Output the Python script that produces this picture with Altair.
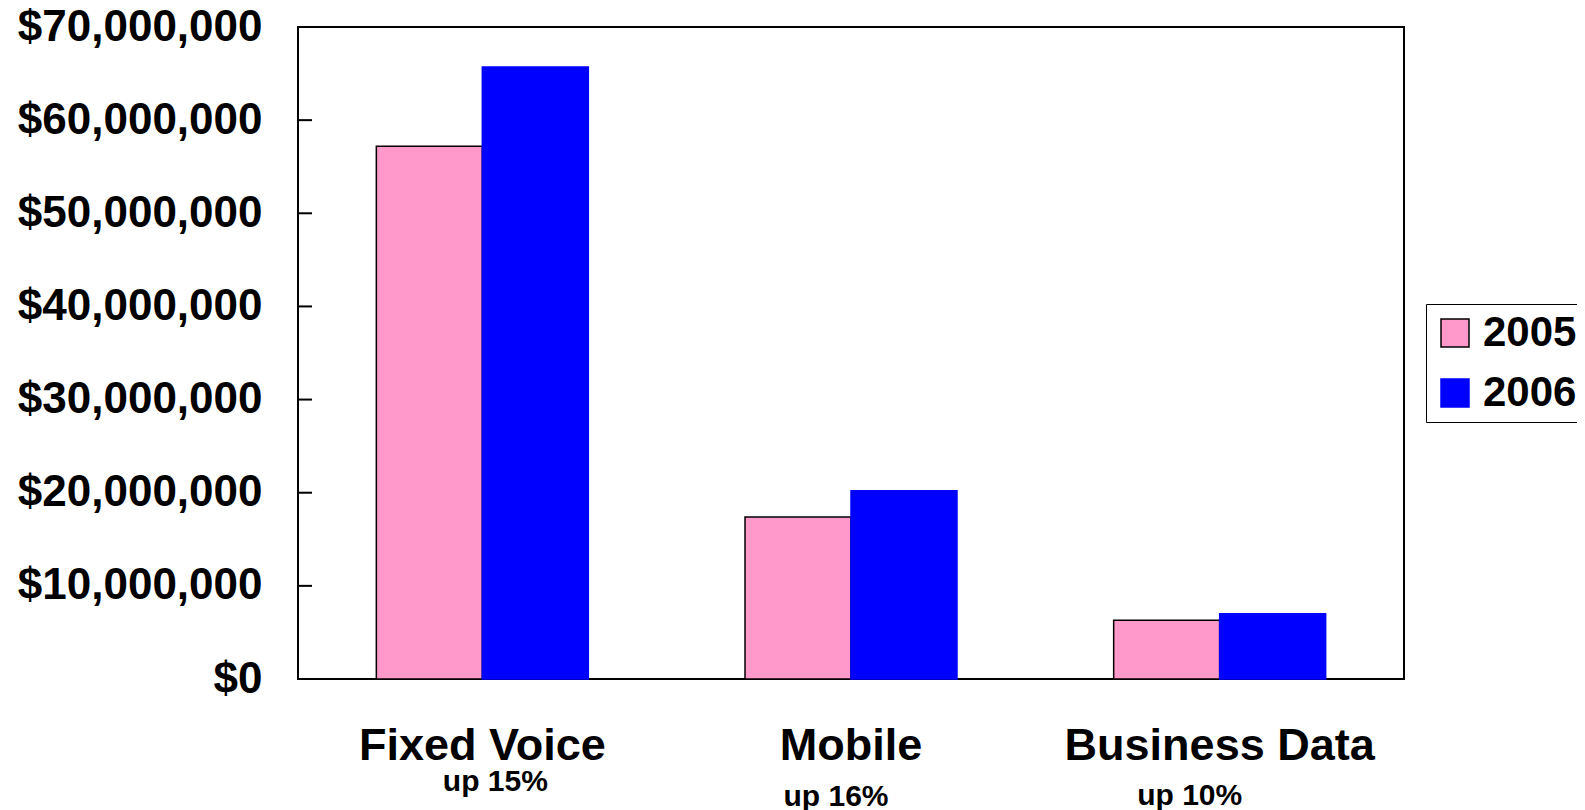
import altair as alt
import pandas as pd

categories = ["Fixed Voice", "Mobile", "Business Data"]
years = ["2005", "2006"]
values_2005 = [57_200_000, 17_400_000, 6_300_000]
values_2006 = [65_700_000, 20_200_000, 7_000_000]
growth = ["up 15%", "up 16%", "up 10%"]
y_ticks = [0, 10_000_000, 20_000_000, 30_000_000, 40_000_000, 50_000_000, 60_000_000, 70_000_000]

rows = []
for c, v5, v6 in zip(categories, values_2005, values_2006):
    rows.append({"category": c, "year": "2005", "value": v5})
    rows.append({"category": c, "year": "2006", "value": v6})
df = pd.DataFrame(rows)
df_growth = pd.DataFrame({"category": categories, "growth": growth})
df_ticks = pd.DataFrame({"tick": y_ticks})

FONT = "Liberation Sans"
W, H = 1106, 652

x_enc = alt.X(
    "category:N", sort=categories,
    scale=alt.Scale(domain=categories, paddingInner=0.425, paddingOuter=0.2125),
    axis=alt.Axis(title=None, labelAngle=0, labelFontSize=45, labelFont=FONT,
                  labelFontWeight="bold", labelColor="black", ticks=False,
                  domain=False, labelPadding=44, labelLimit=0),
)

legend = alt.Legend(
    title=None, orient="none", legendX=1128, legendY=277,
    strokeColor="black", fillColor="white", padding=8,
    symbolType="square", symbolSize=784, symbolStrokeWidth=1.5,
    labelFontSize=42, labelFont=FONT, labelFontWeight="bold", labelColor="black",
    rowPadding=18, labelOffset=7, labelLimit=0,
)

bars = alt.Chart(df).mark_bar(strokeWidth=1.5).encode(
    x=x_enc,
    xOffset=alt.XOffset("year:N", sort=years,
                        scale=alt.Scale(domain=years, paddingInner=0, paddingOuter=0)),
    y=alt.Y("value:Q",
            scale=alt.Scale(domain=[0, 70_000_000], nice=False),
            axis=alt.Axis(title=None, values=y_ticks, format="$,.0f", grid=False,
                          ticks=False, domain=False, labelFontSize=44, labelFont=FONT,
                          labelFontWeight="bold", labelColor="black", labelPadding=36,
                          labelLimit=0)),
    fill=alt.Fill("year:N", scale=alt.Scale(domain=years, range=["#FF99CC", "#0000FF"]),
                  legend=legend),
    stroke=alt.Stroke("year:N", scale=alt.Scale(domain=years, range=["black", "#0000FF"]),
                      legend=legend),
)

ticks = alt.Chart(df_ticks).mark_rule(color="black", strokeWidth=2).encode(
    x=alt.value(0), x2=alt.value(14),
    y=alt.Y("tick:Q"),
)

sub_layers = []
offsets = {"Fixed Voice": (13, 764), "Mobile": (-15, 779), "Business Data": (-30, 778)}
for cat in categories:
    dx, yv = offsets[cat]
    sub_layers.append(
        alt.Chart(df_growth).transform_filter(alt.datum.category == cat)
        .mark_text(fontSize=30, font=FONT, fontWeight="bold", color="black",
                   align="center", baseline="alphabetic", dx=dx)
        .encode(x=alt.X("category:N", sort=categories), y=alt.value(yv), text="growth:N")
    )

chart = alt.layer(bars, ticks, *sub_layers).properties(
    width=W, height=H,
    autosize=alt.AutoSizeParams(type="none"),
    padding={"left": 290, "top": 19, "right": 173, "bottom": 136},
).configure_view(stroke="black", strokeWidth=2)

chart.save("out.html", embed_options={"renderer": "svg", "actions": False})
